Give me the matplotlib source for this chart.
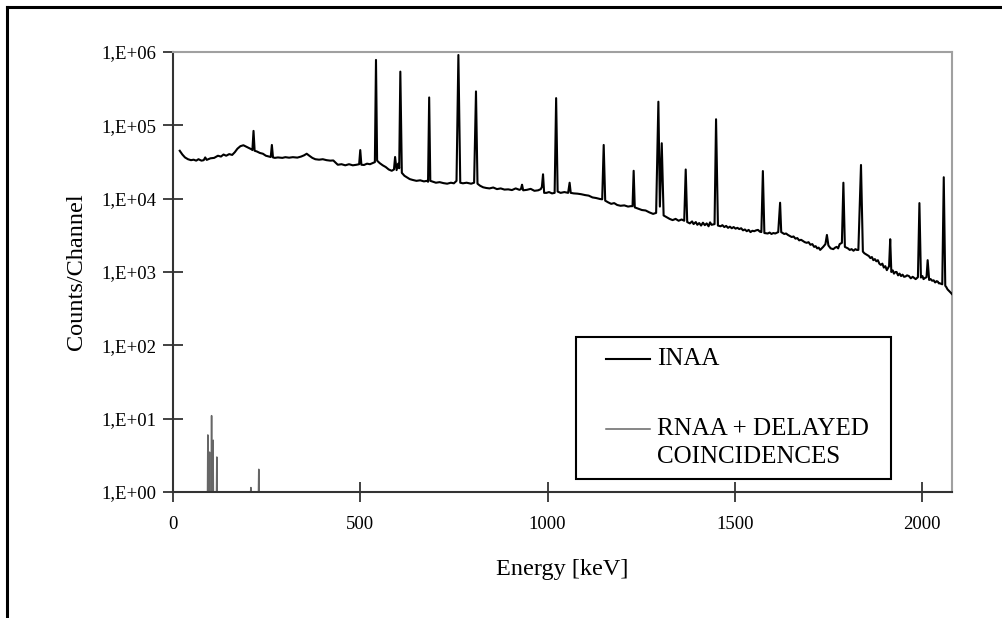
import matplotlib
matplotlib.use("Agg")
import matplotlib.pyplot as plt
from matplotlib.lines import Line2D
from matplotlib.patches import Rectangle
from matplotlib.ticker import FixedLocator, FuncFormatter, NullLocator
import numpy as np

# ---- INAA spectrum: (energy keV, counts/channel) ----
INAA_POINTS = [
    (18, 45000), (25, 40000), (32, 36500), (40, 34500), (48, 33500), (55, 34000),
    (62, 33000), (68, 34500), (76, 33000), (82, 33500), (86, 36500), (90, 33800),
    (100, 35500), (110, 36000), (120, 38500), (128, 37500), (135, 40000),
    (142, 38500), (150, 40500), (158, 39500), (165, 43000), (172, 48000),
    (180, 52000), (188, 53500), (196, 51000), (204, 48500), (210, 47000),
    (212, 46000), (215, 84000), (218, 45000), (224, 44000), (232, 42000),
    (240, 41000), (248, 38500), (256, 37500), (261, 37000), (264, 54000),
    (267, 36500), (272, 36000), (280, 36500), (292, 36000), (300, 36800),
    (310, 36200), (320, 36800), (332, 36300), (342, 37500), (350, 39000),
    (357, 41000), (364, 38500), (372, 36000), (380, 34500), (390, 34000),
    (400, 34500), (410, 33500), (420, 33000), (428, 33200), (434, 31000),
    (440, 29000), (450, 29500), (460, 28500), (470, 29500), (480, 28500),
    (490, 29000), (497, 29500), (500, 46000), (503, 29000), (510, 28800),
    (518, 30000), (526, 29500), (533, 30500), (539, 31500), (542, 780000),
    (545, 33000), (552, 30500), (560, 28500), (568, 27000), (576, 25000),
    (584, 24000), (590, 25000), (593, 37000), (597, 24500), (601, 30000),
    (604, 26000), (607, 540000), (611, 22500), (618, 20500), (625, 19500),
    (632, 18500), (640, 18000), (650, 17500), (660, 17800), (670, 17200),
    (678, 17500), (681, 17000), (684, 240000), (687, 17500), (694, 17000),
    (702, 16500), (712, 16800), (722, 16300), (732, 16000), (742, 16500),
    (750, 16200), (757, 17500), (762, 910000), (767, 16500), (774, 16200),
    (784, 16500), (796, 16000), (804, 16500), (809, 290000), (813, 16000),
    (820, 15000), (828, 14300), (836, 14000), (845, 13800), (855, 14200),
    (865, 13500), (875, 13800), (885, 13300), (895, 13400), (905, 13100),
    (915, 13800), (925, 13200), (929, 13500), (932, 15500), (935, 13000),
    (945, 13200), (955, 13600), (965, 12800), (975, 13000), (982, 13500),
    (985, 14500), (988, 21500), (991, 12000), (997, 12000), (1004, 12300),
    (1012, 11800), (1019, 12000), (1023, 235000), (1027, 12500), (1035, 12000),
    (1045, 12300), (1055, 12000), (1059, 16500), (1062, 12000), (1070, 11800),
    (1080, 11700), (1090, 11500), (1100, 11200), (1110, 11000), (1120, 10400),
    (1130, 10200), (1140, 9900), (1146, 9800), (1150, 54000), (1154, 9400),
    (1162, 8900), (1170, 8500), (1178, 8700), (1186, 8200), (1195, 8000),
    (1205, 8100), (1215, 7800), (1222, 7900), (1227, 7900), (1230, 24000),
    (1233, 7600), (1242, 7300), (1252, 7000), (1262, 6900), (1272, 6500),
    (1282, 6200), (1290, 6400), (1296, 210000), (1300, 7800), (1305, 57000),
    (1310, 5900), (1318, 5600), (1326, 5300), (1334, 5100), (1342, 5300),
    (1350, 5000), (1358, 5200), (1365, 5000), (1369, 25000), (1373, 4800),
    (1380, 4600), (1386, 4900), (1390, 4500), (1396, 4800), (1400, 4400),
    (1405, 4650), (1410, 4300), (1415, 4700), (1420, 4350), (1425, 4600),
    (1430, 4200), (1434, 4750), (1438, 4400), (1446, 4500), (1450, 121000),
    (1455, 4300), (1462, 4200), (1467, 4350), (1472, 4100), (1477, 4250),
    (1482, 4000), (1487, 4150), (1492, 3950), (1497, 4100), (1502, 3900),
    (1507, 4000), (1512, 3850), (1517, 3950), (1522, 3700), (1527, 3800),
    (1532, 3600), (1537, 3750), (1542, 3500), (1547, 3650), (1552, 3600),
    (1557, 3700), (1562, 3750), (1567, 3550), (1571, 3500), (1575, 23800),
    (1579, 3400), (1588, 3350), (1593, 3450), (1598, 3300), (1603, 3400),
    (1608, 3350), (1616, 3500), (1621, 8800), (1624, 3500), (1632, 3300),
    (1637, 3350), (1642, 3200), (1647, 3100), (1652, 3000), (1657, 3050),
    (1662, 2850), (1667, 2900), (1672, 2700), (1677, 2750), (1682, 2650),
    (1687, 2550), (1692, 2500), (1697, 2550), (1702, 2350), (1707, 2400),
    (1712, 2200), (1716, 2250), (1720, 2100), (1724, 2150), (1728, 2000),
    (1732, 2100), (1736, 2200), (1742, 2400), (1746, 3200), (1750, 2300),
    (1756, 2100), (1763, 2050), (1768, 2150), (1772, 2200), (1776, 2100),
    (1780, 2400), (1786, 2500), (1790, 16500), (1794, 2200), (1798, 2150),
    (1802, 2100), (1807, 2000), (1812, 2050), (1817, 1950), (1822, 2050),
    (1826, 2000), (1830, 2000), (1837, 28800), (1842, 1900), (1846, 1800),
    (1850, 1750), (1854, 1700), (1858, 1650), (1862, 1550), (1866, 1600),
    (1870, 1450), (1874, 1500), (1878, 1400), (1882, 1450), (1886, 1300),
    (1890, 1250), (1894, 1300), (1898, 1150), (1902, 1200), (1906, 1060),
    (1912, 1200), (1915, 2800), (1918, 1000), (1922, 1050), (1925, 950),
    (1929, 1000), (1932, 1000), (1936, 900), (1940, 950), (1944, 880),
    (1948, 920), (1952, 860), (1956, 870), (1960, 900), (1965, 880),
    (1970, 820), (1975, 860), (1979, 830), (1983, 800), (1989, 850),
    (1993, 8700), (1997, 840), (2001, 880), (2004, 800), (2008, 830),
    (2012, 850), (2015, 1450), (2019, 780), (2023, 800), (2027, 760),
    (2031, 770), (2035, 720), (2039, 750), (2042, 740), (2045, 700),
    (2048, 700), (2054, 680), (2058, 19600), (2062, 650), (2065, 620),
    (2068, 580), (2071, 560), (2074, 540), (2077, 520), (2080, 500),
]
INAA_E = [p[0] for p in INAA_POINTS]
INAA_C = [p[1] for p in INAA_POINTS]

# ---- RNAA + delayed coincidences: a few lines only ----
RNAA_E = [93, 98, 103, 107, 117, 208, 229]
RNAA_C = [6.0, 3.5, 11.0, 5.1, 3.0, 1.15, 2.04]

DECADES = [0, 1, 2, 3, 4, 5, 6]
X_TICKS = [0, 500, 1000, 1500, 2000]

plt.rcParams.update({
    "font.family": ["Liberation Serif", "DejaVu Serif"],
    "font.size": 13.5,
})

W, H = 1002, 618
AX_L, AX_R, AX_T, AX_B = 173, 952, 52, 492

fig = plt.figure(figsize=(W / 100, H / 100), dpi=100)
ax = fig.add_axes([AX_L / W, 1 - AX_B / H, (AX_R - AX_L) / W, (AX_B - AX_T) / H])

ax.plot(INAA_E, INAA_C, color="black", lw=1.5, zorder=3)

# RNAA spikes drawn as narrow triangles rising from the baseline
for e, c in zip(RNAA_E, RNAA_C):
    ax.plot([e - 0.8, e, e + 0.8], [1, c, 1], color="#666666", lw=1.1, zorder=2)

ax.set_yscale("log")
ax.set_xlim(0, 2080)
ax.set_ylim(1, 1e6)
ax.yaxis.set_major_locator(FixedLocator([10.0 ** d for d in DECADES]))
ax.yaxis.set_minor_locator(NullLocator())
ax.yaxis.set_major_formatter(FuncFormatter(lambda v, p: "1,E+%02d" % round(np.log10(v))))
ax.set_xticks(X_TICKS)

for side in ("left", "bottom"):
    ax.spines[side].set_color("#333333")
    ax.spines[side].set_linewidth(1.5)
for side in ("top", "right"):
    ax.spines[side].set_color("#a0a0a0")
    ax.spines[side].set_linewidth(1.5)
ax.tick_params(axis="both", direction="inout", length=14, width=1.3, color="#333333")
ax.tick_params(axis="y", pad=5)
ax.tick_params(axis="x", pad=10)

ax.set_xlabel("Energy [keV]", fontsize=17.5, labelpad=19)
ax.set_ylabel("Counts/Channel", fontsize=17.5, labelpad=10)


# ---- legend box, placed like the original (pixel positions -> axes fraction) ----
def fx(px):
    return (px - AX_L) / (AX_R - AX_L)


def fy(py):
    return (AX_B - py) / (AX_B - AX_T)


ax.add_patch(Rectangle((fx(576), fy(479)), fx(891) - fx(576), fy(337) - fy(479),
                       transform=ax.transAxes, facecolor="white", edgecolor="black",
                       lw=1.5, zorder=5, clip_on=False))
ax.add_line(Line2D([fx(606), fx(650)], [fy(359), fy(359)], transform=ax.transAxes,
                   color="black", lw=1.5, zorder=6))
ax.add_line(Line2D([fx(606), fx(650)], [fy(429), fy(429)], transform=ax.transAxes,
                   color="#666666", lw=1.1, zorder=6))
ax.text(fx(657), fy(359), "INAA", transform=ax.transAxes, fontsize=18,
        va="center", ha="left", zorder=6)
ax.text(fx(657), fy(443), "RNAA + DELAYED\nCOINCIDENCES", transform=ax.transAxes,
        fontsize=18, va="center", ha="left", linespacing=1.3, zorder=6)

# outer frame of the original figure (left and top edges)
fig.add_artist(Line2D([7 / W, 7 / W], [0, 1 - 7 / H], color="black", lw=2.2,
                      transform=fig.transFigure))
fig.add_artist(Line2D([7 / W, 1], [1 - 7 / H, 1 - 7 / H], color="black", lw=2.2,
                      transform=fig.transFigure))

fig.savefig("out.png", dpi=100)
